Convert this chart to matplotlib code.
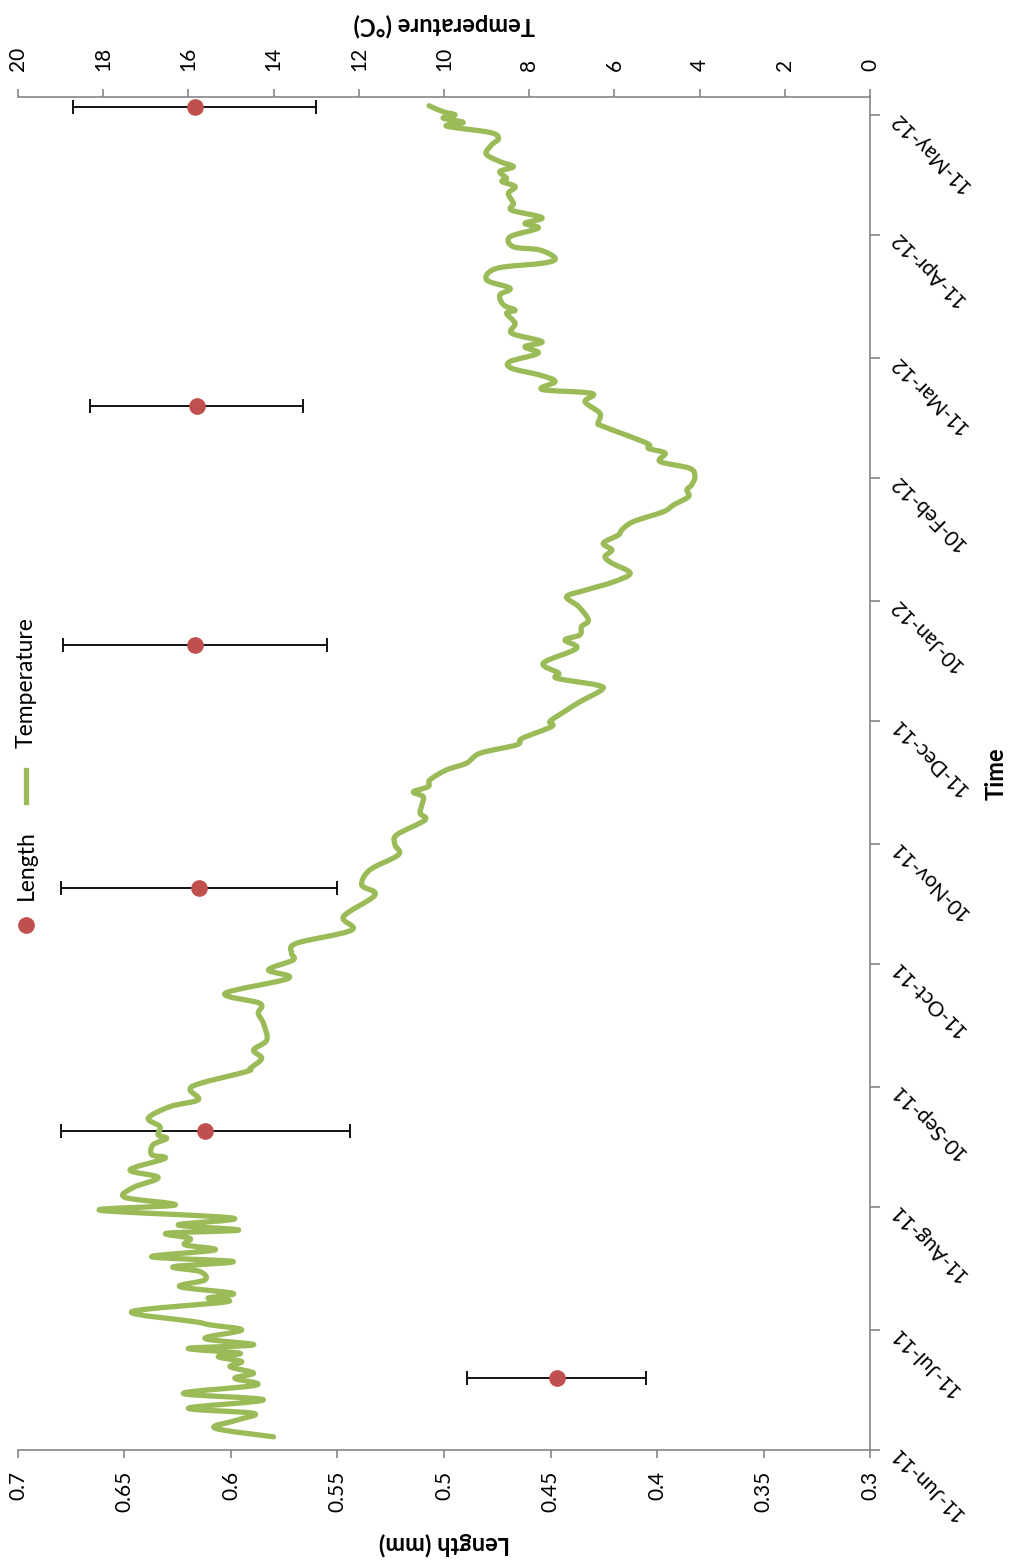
import matplotlib
matplotlib.use("Agg")
import numpy as np
import matplotlib.pyplot as plt
import matplotlib.dates as mdates
from matplotlib.lines import Line2D
from matplotlib.path import Path
from matplotlib.patches import PathPatch

plt.rcParams["font.family"] = ["Lato", "DejaVu Sans"]

START = np.datetime64("2011-06-11")

# Daily water temperature (days after 11-Jun-11, degrees C)
temp_day = [3.3, 5.5, 7.5, 9.2, 10.5, 12.6, 14.2, 16.3, 18.0, 19.3, 20.9, 22.2,
            23.4, 24.3, 25.5, 26.4, 28.0, 30.1, 31.4, 32.2, 34.7, 37.2, 38.1, 39.3,
            41.0, 42.7, 44.8, 46.0, 47.3, 48.5, 50.2, 51.5, 53.1, 54.4, 55.2, 56.5,
            58.2, 60.2, 61.5, 63.4, 65.9, 68.4, 70.3, 73.2, 74.1, 76.6, 78.2, 79.1,
            81.2, 83.3, 86.2, 87.9, 90.4, 92.0, 95.0, 95.8, 98.3, 100.4, 102.9, 107.1,
            109.6, 112.1, 114.6, 118.4, 120.5, 123.0, 124.7, 127.2, 130.5, 133.9, 139.3,
            141.8, 145.6, 149.4, 151.9, 154.4, 158.1, 159.8, 161.9, 164.0, 165.2, 166.5,
            168.2, 170.7, 172.4, 174.9, 177.0, 178.6, 181.6, 182.9, 185.7, 187.8, 190.8,
            192.0, 193.7, 195.0, 197.5, 201.2, 203.3, 204.6, 206.7, 208.3, 211.7, 214.2,
            215.9, 217.9, 220.1, 222.6, 224.2, 225.9, 227.6, 229.7, 230.9, 233.0, 235.5,
            237.2, 239.3, 241.0, 242.2, 244.3, 246.4, 248.1, 250.2, 251.4, 252.7, 256.9,
            257.7, 260.2, 263.1, 265.2, 266.2, 268.2, 269.8, 271.5, 273.2, 275.3, 276.9,
            278.2, 280.3, 282.8, 285.3, 286.1, 287.4, 289.9, 291.6, 293.7, 296.6, 297.9,
            299.1, 301.2, 302.0, 304.5, 306.7, 307.9, 309.3, 311.2, 312.9, 315.4, 317.1,
            318.4, 319.2, 320.9, 322.1, 323.4, 325.3, 327.6, 329.2, 330.7, 332.3, 333.2,
            334.3, 335.1, 335.9, 337.4]
temp_c = [14.00, 15.38, 14.86, 14.47, 16.00, 14.24, 16.12, 14.40, 14.91, 14.47, 15.02, 14.75,
          15.30, 14.79, 16.00, 14.47, 15.61, 14.75, 15.49, 15.85, 17.33, 15.10, 15.54, 14.95,
          16.20, 15.61, 15.73, 16.35, 14.95, 16.86, 15.38, 16.08, 15.96, 16.51, 14.82, 16.24,
          14.95, 18.08, 16.31, 17.49, 17.29, 16.71, 17.37, 16.55, 16.86, 16.83, 16.51, 16.71,
          16.67, 16.94, 16.43, 15.77, 15.96, 15.73, 14.63, 14.55, 14.28, 14.47, 14.16, 14.24,
          14.36, 14.32, 15.14, 13.65, 14.12, 13.54, 13.58, 13.46, 12.17, 12.36, 11.62,
          11.93, 11.74, 11.07, 11.15, 11.11, 10.45, 10.56, 10.52, 10.49, 10.72, 10.37,
          10.33, 9.94, 9.47, 9.15, 8.29, 8.17, 7.47, 7.51, 7.12, 6.81, 6.30,
          6.41, 7.35, 7.31, 7.67, 6.89, 7.16, 6.81, 6.77, 6.61, 6.84, 7.12,
          6.65, 6.02, 5.63, 6.06, 6.22, 6.06, 6.26, 5.90, 5.83, 5.56, 4.85,
          4.61, 4.26, 4.30, 4.19, 4.11, 4.23, 4.93, 4.81, 5.20, 5.24, 6.26,
          6.38, 6.34, 6.69, 6.53, 7.70, 7.39, 7.75, 8.41, 8.45, 7.79, 8.10,
          7.70, 8.41, 8.33, 8.53, 8.33, 8.60, 8.69, 8.45, 9.00, 8.76, 7.67,
          7.39, 7.75, 8.37, 8.45, 7.79, 8.10, 7.70, 8.41, 8.37, 8.49, 8.33,
          8.64, 8.53, 8.69, 8.37, 8.69, 9.01, 8.88, 8.72, 8.92, 9.94, 9.55,
          10.02, 9.74, 10.02, 10.35]

# Mean shell length per sampling date with its spread
length_day = [18, 80, 141, 202, 262, 337]
length_mm = [0.447, 0.612, 0.615, 0.617, 0.616, 0.617]
length_err = [0.042, 0.068, 0.065, 0.062, 0.050, 0.057]

tick_dates = ["2011-06-11", "2011-07-11", "2011-08-11", "2011-09-10", "2011-10-11",
              "2011-11-10", "2011-12-11", "2012-01-10", "2012-02-10", "2012-03-11",
              "2012-04-11", "2012-05-11"]
length_ticks = [0.7, 0.65, 0.6, 0.55, 0.5, 0.45, 0.4, 0.35, 0.3]
length_labels = ["0.7", "0.65", "0.6", "0.55", "0.5", "0.45", "0.4", "0.35", "0.3"]
temp_ticks = [20, 18, 16, 14, 12, 10, 8, 6, 4, 2, 0]

AXIS_GREY = "#868686"
GREEN = "#9BBB59"
RED = "#C0504D"
TICK_FS = 15
TITLE_FS = 17


def smooth_path(xs, ys):
    """Cubic Bezier path through the points (Catmull-Rom style smoothed line)."""
    p = np.column_stack([xs, ys]).astype(float)
    ext = np.vstack([p[0], p, p[-1]])
    verts = [p[0]]
    codes = [Path.MOVETO]
    for i in range(len(p) - 1):
        p0, p1, p2, p3 = ext[i], ext[i + 1], ext[i + 2], ext[i + 3]
        verts += [p1 + (p2 - p0) / 6.0, p2 - (p3 - p1) / 6.0, p2]
        codes += [Path.CURVE4] * 3
    return Path(verts, codes)


base = mdates.date2num(START)
t_y = base + np.array(temp_day)
l_y = base + np.array(length_day)
tick_y = mdates.date2num(np.array(tick_dates, dtype="datetime64[D]"))

W, H = 1013, 1567
fig = plt.figure(figsize=(W / 100, H / 100), dpi=100)
ax = fig.add_axes([18 / W, 117 / H, 852 / W, 1353 / H])

ax.set_xlim(0.7, 0.3)
ax.set_ylim(base, base + 339.6)

ax.errorbar(length_mm, l_y, xerr=length_err, fmt="o", color=RED, ms=11,
            ecolor="black", elinewidth=1.3, capsize=5, capthick=1.3, zorder=3)

# Length axis along the bottom
ax.set_xticks(length_ticks)
ax.set_xticklabels(length_labels)
ax.tick_params(axis="x", direction="out", length=6, width=1.2, color=AXIS_GREY,
               labelrotation=90, labelsize=TICK_FS, pad=9)
ax.set_xlabel("Length (mm)", rotation=180, fontsize=TITLE_FS, fontweight="bold", labelpad=14)

# Time axis on the right
ax.yaxis.tick_right()
ax.set_yticks(tick_y)
ax.set_yticklabels([mdates.num2date(v).strftime("%d-%b-%y") for v in tick_y],
                   rotation=135, ha="right", va="center", rotation_mode="anchor")
ax.tick_params(axis="y", direction="out", length=7, width=1.2, color=AXIS_GREY,
               labelsize=TICK_FS, pad=10)
ax.yaxis.set_label_position("right")
ax.set_ylabel("Time", rotation=90, fontsize=TITLE_FS, fontweight="bold")
ax.yaxis.set_label_coords(1.135, 0.5)

for side in ("left", "top"):
    ax.spines[side].set_visible(False)
for side in ("bottom", "right"):
    ax.spines[side].set_color(AXIS_GREY)
    ax.spines[side].set_linewidth(1.2)

# Temperature on a secondary axis along the top, drawn as a smoothed line
ax2 = ax.twiny()
ax2.set_xlim(20, 0)
ax2.add_patch(PathPatch(smooth_path(temp_c, t_y), facecolor="none", edgecolor=GREEN,
                        lw=3.8, joinstyle="round", capstyle="round", zorder=2))
ax2.set_xticks(temp_ticks)
ax2.set_xticklabels([str(t) for t in temp_ticks])
ax2.tick_params(axis="x", direction="out", length=6, width=1.2, color=AXIS_GREY,
                labelrotation=90, labelsize=TICK_FS, pad=13)
ax2.set_xlabel("Temperature (°C)", rotation=180, fontsize=TITLE_FS, fontweight="bold",
               labelpad=10)
for side in ("left", "right", "bottom"):
    ax2.spines[side].set_visible(False)
ax2.spines["top"].set_color(AXIS_GREY)
ax2.spines["top"].set_linewidth(1.2)

# Legend, stacked upwards along the left edge
fx = lambda px: px / W
fy = lambda py: 1 - py / H
fig.add_artist(Line2D([fx(26)], [fy(925)], marker="o", ms=11, color=RED,
                      transform=fig.transFigure))
fig.text(fx(26), fy(865), "Length", rotation=90, ha="center", va="center", fontsize=16.5)
fig.add_artist(Line2D([fx(26), fx(26)], [fy(770), fy(802)], color=GREEN, lw=3.8,
                      transform=fig.transFigure))
fig.text(fx(26), fy(683), "Temperature", rotation=90, ha="center", va="center", fontsize=16.5)

fig.savefig("out.png", dpi=100, facecolor="white")
